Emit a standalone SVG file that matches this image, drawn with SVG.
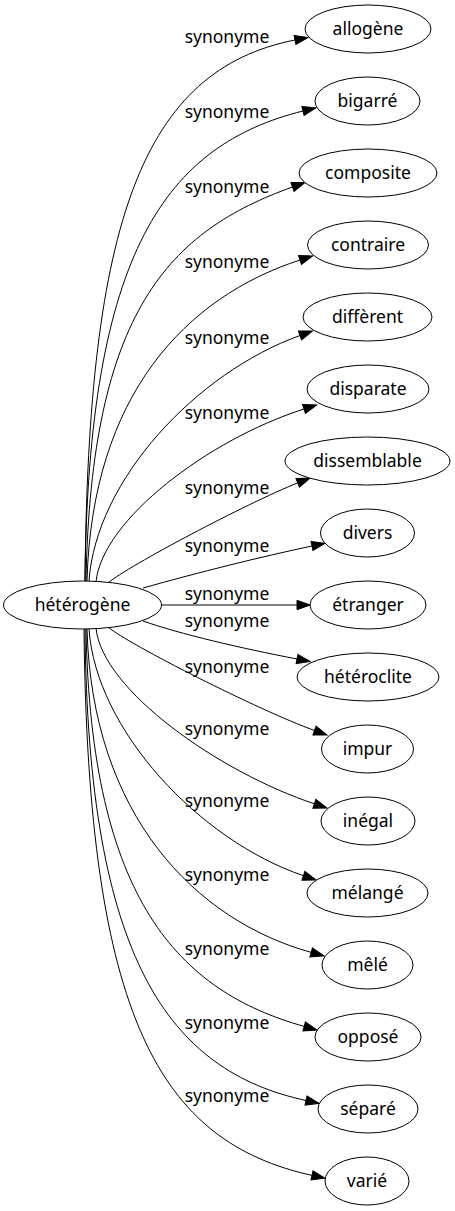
<svg xmlns="http://www.w3.org/2000/svg" width="455" height="1211" viewBox="0 0 455 1211">
<style>
.n ellipse{fill:#fff;stroke:#000;stroke-width:1}
text{font-family:"Noto Sans","Open Sans","DejaVu Sans",sans-serif;font-size:17.5px;fill:#000;text-anchor:middle}
.e path{fill:none;stroke:#000;stroke-width:1;marker-end:url(#ah)}
</style>
<defs>
<marker id="ah" markerWidth="14" markerHeight="10" viewBox="0 -5 14 10" refX="0" refY="0" orient="auto" markerUnits="userSpaceOnUse" overflow="visible">
<path d="M0,-4.67 L13.3,0 L0,4.67 z" fill="#000" stroke="#000" stroke-width="1"/>
</marker>
</defs>
<rect width="455" height="1211" fill="#fff"/>
<g id="edges" class="e">
<path d="M85,581 C88,220 143,70 295,40"/>
<path d="M85,581 C88,250 167,145 303,111"/>
<path d="M86,581 C91,310 170,231 292.5,187"/>
<path d="M87,581 C92,395 186,297 300,260"/>
<path d="M89,581 C96,480 196.5,372.7 300,335.5"/>
<path d="M96,582 C102,520 208.7,439.4 304,409"/>
<path d="M108,583 C128,566 246.7,503.3 297.7,482.9"/>
<path d="M143,588 C200,572 260,557 312,546"/>
<path d="M162,605 L297,605"/>
<path d="M143,621 C180,634 240,648 297,659"/>
<path d="M108,627 C128,644 258,710 314.5,730.5"/>
<path d="M96,628 C102,690 219.4,772.2 314.4,803.8"/>
<path d="M89,629 C96,730 199.3,840.2 303.4,875.7"/>
<path d="M87,629 C92,815 195.5,920.4 311.2,952.4"/>
<path d="M86,629 C91,900 179,991.3 304.2,1026.4"/>
<path d="M85,629 C88,960 169.2,1070.8 306,1100.5"/>
<path d="M84,629 C88,1020 160.7,1141.8 312,1175.4"/>
</g>
<g id="edge-labels">
<text x="227" y="43">synonyme</text>
<text x="227" y="118">synonyme</text>
<text x="227" y="193">synonyme</text>
<text x="227" y="268">synonyme</text>
<text x="227" y="344">synonyme</text>
<text x="227" y="419">synonyme</text>
<text x="227" y="494">synonyme</text>
<text x="227" y="552">synonyme</text>
<text x="227" y="600">synonyme</text>
<text x="227" y="627">synonyme</text>
<text x="227" y="673">synonyme</text>
<text x="227" y="735">synonyme</text>
<text x="227" y="807">synonyme</text>
<text x="227" y="881">synonyme</text>
<text x="227" y="955">synonyme</text>
<text x="227" y="1029">synonyme</text>
<text x="227" y="1102">synonyme</text>
</g>
<g id="n0" class="n"><ellipse cx="82.5" cy="605" rx="79" ry="24"/><text x="82.5" y="611">hétérogène</text></g>
<g id="n1" class="n"><ellipse cx="368" cy="29" rx="63" ry="24"/><text x="368" y="35">allogène</text></g>
<g id="n2" class="n"><ellipse cx="367.5" cy="101" rx="52.5" ry="24"/><text x="367.5" y="107">bigarré</text></g>
<g id="n3" class="n"><ellipse cx="368" cy="173" rx="69" ry="24"/><text x="368" y="179">composite</text></g>
<g id="n4" class="n"><ellipse cx="368" cy="245" rx="60.5" ry="24"/><text x="368" y="251">contraire</text></g>
<g id="n5" class="n"><ellipse cx="367.5" cy="317" rx="64.5" ry="24"/><text x="367.5" y="323">diffèrent</text></g>
<g id="n6" class="n"><ellipse cx="368" cy="389" rx="61" ry="24"/><text x="368" y="395">disparate</text></g>
<g id="n7" class="n"><ellipse cx="367.5" cy="461" rx="82.5" ry="24"/><text x="367.5" y="467">dissemblable</text></g>
<g id="n8" class="n"><ellipse cx="367.5" cy="533" rx="47" ry="24"/><text x="367.5" y="539">divers</text></g>
<g id="n9" class="n"><ellipse cx="368" cy="605" rx="58" ry="24"/><text x="368" y="611">étranger</text></g>
<g id="n10" class="n"><ellipse cx="368" cy="677" rx="71" ry="24"/><text x="368" y="683">hétéroclite</text></g>
<g id="n11" class="n"><ellipse cx="367.5" cy="749" rx="46" ry="24"/><text x="367.5" y="755">impur</text></g>
<g id="n12" class="n"><ellipse cx="368" cy="821" rx="47" ry="24"/><text x="368" y="827">inégal</text></g>
<g id="n13" class="n"><ellipse cx="367.5" cy="893" rx="60.5" ry="24"/><text x="367.5" y="899">mélangé</text></g>
<g id="n14" class="n"><ellipse cx="367.5" cy="965" rx="45.5" ry="24"/><text x="367.5" y="971">mêlé</text></g>
<g id="n15" class="n"><ellipse cx="368" cy="1037" rx="53" ry="24"/><text x="368" y="1043">opposé</text></g>
<g id="n16" class="n"><ellipse cx="368" cy="1109" rx="50" ry="24"/><text x="368" y="1115">séparé</text></g>
<g id="n17" class="n"><ellipse cx="367" cy="1181" rx="42" ry="24"/><text x="367" y="1187">varié</text></g>
</svg>
